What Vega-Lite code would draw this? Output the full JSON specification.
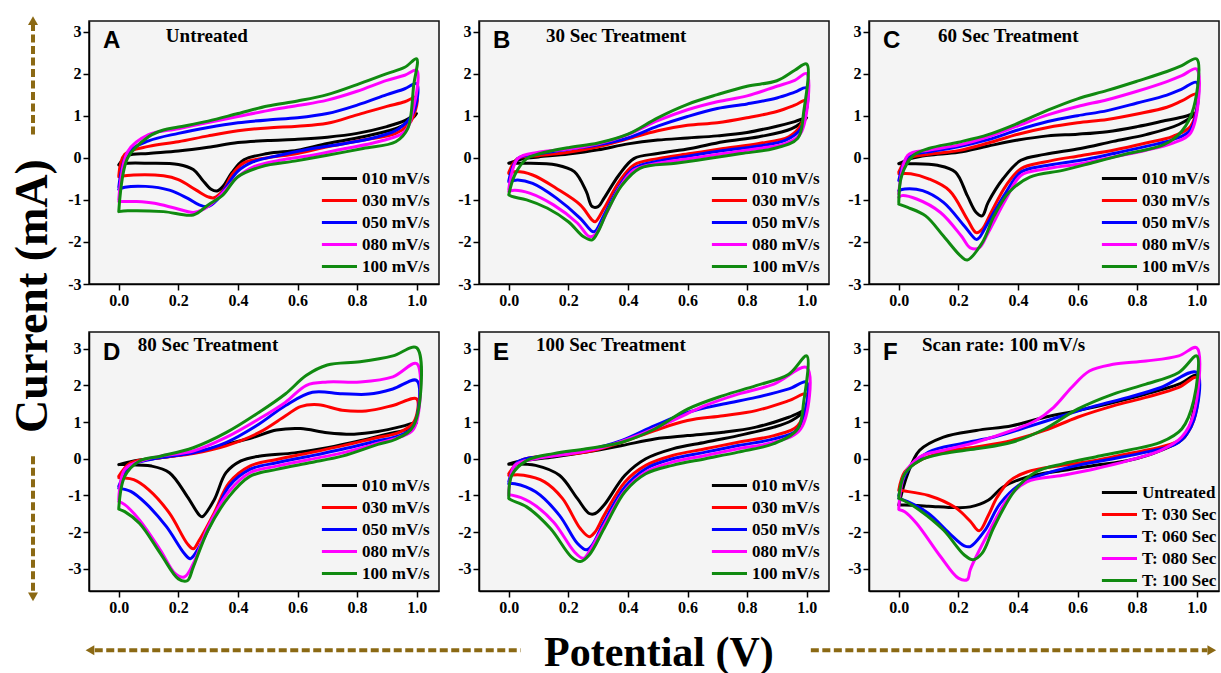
{
"$schema":"https://vega.github.io/schema/vega-lite/v6.json",
"background":"white",
"padding":{"left":9,"top":15,"right":0,"bottom":0},
"config":{
 "view":{"stroke":"#111111","strokeWidth":1.5,"fill":"#f4f4f4"},
 "axis":{"labelFont":"Liberation Serif","labelFontWeight":"bold","labelFontSize":16,"labelColor":"black","domainColor":"black","domainWidth":1.5,"tickColor":"black","tickWidth":1.5,"grid":false,"labelOverlap":false,"labelFlush":false,"labelPadding":2},
 "legend":{"orient":"bottom-right","offset":9,"labelFont":"Liberation Serif","labelFontWeight":"bold","labelFontSize":17,"labelColor":"black","symbolSize":81,"symbolStrokeWidth":3,"labelOffset":1,"rowPadding":4,"padding":0,"labelLimit":300},
 "text":{"color":"black"}
},
"datasets":{
"A":[
{"s":"010 mV/s","i":0,"V":0,"I":-0.17},{"s":"010 mV/s","i":1,"V":0.03,"I":0.05},{"s":"010 mV/s","i":2,"V":0.1,"I":0.1},{"s":"010 mV/s","i":3,"V":0.2,"I":0.16},{"s":"010 mV/s","i":4,"V":0.3,"I":0.25},{"s":"010 mV/s","i":5,"V":0.4,"I":0.36},{"s":"010 mV/s","i":6,"V":0.5,"I":0.41},{"s":"010 mV/s","i":7,"V":0.6,"I":0.44},{"s":"010 mV/s","i":8,"V":0.7,"I":0.49},{"s":"010 mV/s","i":9,"V":0.8,"I":0.58},{"s":"010 mV/s","i":10,"V":0.9,"I":0.74},{"s":"010 mV/s","i":11,"V":0.96,"I":0.88},{"s":"010 mV/s","i":12,"V":1,"I":1.05},{"s":"010 mV/s","i":13,"V":0.95,"I":0.75},{"s":"010 mV/s","i":14,"V":0.82,"I":0.5},{"s":"010 mV/s","i":15,"V":0.7,"I":0.34},{"s":"010 mV/s","i":16,"V":0.6,"I":0.18},{"s":"010 mV/s","i":17,"V":0.5,"I":0.1},{"s":"010 mV/s","i":18,"V":0.42,"I":-0.05},{"s":"010 mV/s","i":19,"V":0.38,"I":-0.35},{"s":"010 mV/s","i":20,"V":0.35,"I":-0.68},{"s":"010 mV/s","i":21,"V":0.33,"I":-0.79},{"s":"010 mV/s","i":22,"V":0.31,"I":-0.75},{"s":"010 mV/s","i":23,"V":0.28,"I":-0.52},{"s":"010 mV/s","i":24,"V":0.25,"I":-0.28},{"s":"010 mV/s","i":25,"V":0.2,"I":-0.16},{"s":"010 mV/s","i":26,"V":0.1,"I":-0.13},{"s":"010 mV/s","i":27,"V":0.03,"I":-0.13},{"s":"010 mV/s","i":28,"V":0,"I":-0.17},
{"s":"030 mV/s","i":0,"V":0,"I":-0.43},{"s":"030 mV/s","i":1,"V":0.02,"I":0.08},{"s":"030 mV/s","i":2,"V":0.1,"I":0.27},{"s":"030 mV/s","i":3,"V":0.2,"I":0.38},{"s":"030 mV/s","i":4,"V":0.3,"I":0.52},{"s":"030 mV/s","i":5,"V":0.4,"I":0.64},{"s":"030 mV/s","i":6,"V":0.5,"I":0.71},{"s":"030 mV/s","i":7,"V":0.6,"I":0.75},{"s":"030 mV/s","i":8,"V":0.7,"I":0.82},{"s":"030 mV/s","i":9,"V":0.8,"I":1.02},{"s":"030 mV/s","i":10,"V":0.9,"I":1.22},{"s":"030 mV/s","i":11,"V":0.96,"I":1.33},{"s":"030 mV/s","i":12,"V":1,"I":1.44},{"s":"030 mV/s","i":13,"V":0.99,"I":1.0},{"s":"030 mV/s","i":14,"V":0.97,"I":0.77},{"s":"030 mV/s","i":15,"V":0.93,"I":0.58},{"s":"030 mV/s","i":16,"V":0.82,"I":0.42},{"s":"030 mV/s","i":17,"V":0.7,"I":0.26},{"s":"030 mV/s","i":18,"V":0.6,"I":0.1},{"s":"030 mV/s","i":19,"V":0.5,"I":0},{"s":"030 mV/s","i":20,"V":0.42,"I":-0.12},{"s":"030 mV/s","i":21,"V":0.38,"I":-0.4},{"s":"030 mV/s","i":22,"V":0.35,"I":-0.78},{"s":"030 mV/s","i":23,"V":0.32,"I":-0.95},{"s":"030 mV/s","i":24,"V":0.3,"I":-0.93},{"s":"030 mV/s","i":25,"V":0.26,"I":-0.77},{"s":"030 mV/s","i":26,"V":0.2,"I":-0.52},{"s":"030 mV/s","i":27,"V":0.15,"I":-0.43},{"s":"030 mV/s","i":28,"V":0.05,"I":-0.41},{"s":"030 mV/s","i":29,"V":0,"I":-0.45},
{"s":"050 mV/s","i":0,"V":0,"I":-0.7},{"s":"050 mV/s","i":1,"V":0.03,"I":0.12},{"s":"050 mV/s","i":2,"V":0.1,"I":0.4},{"s":"050 mV/s","i":3,"V":0.2,"I":0.58},{"s":"050 mV/s","i":4,"V":0.3,"I":0.72},{"s":"050 mV/s","i":5,"V":0.4,"I":0.83},{"s":"050 mV/s","i":6,"V":0.5,"I":0.9},{"s":"050 mV/s","i":7,"V":0.6,"I":0.95},{"s":"050 mV/s","i":8,"V":0.7,"I":1.05},{"s":"050 mV/s","i":9,"V":0.8,"I":1.25},{"s":"050 mV/s","i":10,"V":0.9,"I":1.5},{"s":"050 mV/s","i":11,"V":0.96,"I":1.64},{"s":"050 mV/s","i":12,"V":1,"I":1.76},{"s":"050 mV/s","i":13,"V":0.99,"I":1.09},{"s":"050 mV/s","i":14,"V":0.94,"I":0.69},{"s":"050 mV/s","i":15,"V":0.87,"I":0.5},{"s":"050 mV/s","i":16,"V":0.76,"I":0.34},{"s":"050 mV/s","i":17,"V":0.65,"I":0.22},{"s":"050 mV/s","i":18,"V":0.54,"I":0.06},{"s":"050 mV/s","i":19,"V":0.45,"I":-0.1},{"s":"050 mV/s","i":20,"V":0.4,"I":-0.32},{"s":"050 mV/s","i":21,"V":0.36,"I":-0.7},{"s":"050 mV/s","i":22,"V":0.33,"I":-1.0},{"s":"050 mV/s","i":23,"V":0.3,"I":-1.16},{"s":"050 mV/s","i":24,"V":0.27,"I":-1.12},{"s":"050 mV/s","i":25,"V":0.23,"I":-0.96},{"s":"050 mV/s","i":26,"V":0.17,"I":-0.77},{"s":"050 mV/s","i":27,"V":0.09,"I":-0.68},{"s":"050 mV/s","i":28,"V":0.02,"I":-0.7},{"s":"050 mV/s","i":29,"V":0,"I":-0.75},
{"s":"080 mV/s","i":0,"V":0,"I":-1.0},{"s":"080 mV/s","i":1,"V":0.03,"I":0.15},{"s":"080 mV/s","i":2,"V":0.1,"I":0.55},{"s":"080 mV/s","i":3,"V":0.2,"I":0.69},{"s":"080 mV/s","i":4,"V":0.3,"I":0.84},{"s":"080 mV/s","i":5,"V":0.4,"I":0.98},{"s":"080 mV/s","i":6,"V":0.5,"I":1.12},{"s":"080 mV/s","i":7,"V":0.6,"I":1.24},{"s":"080 mV/s","i":8,"V":0.7,"I":1.37},{"s":"080 mV/s","i":9,"V":0.8,"I":1.58},{"s":"080 mV/s","i":10,"V":0.9,"I":1.84},{"s":"080 mV/s","i":11,"V":0.96,"I":1.96},{"s":"080 mV/s","i":12,"V":1,"I":2.08},{"s":"080 mV/s","i":13,"V":0.99,"I":1.2},{"s":"080 mV/s","i":14,"V":0.96,"I":0.62},{"s":"080 mV/s","i":15,"V":0.87,"I":0.38},{"s":"080 mV/s","i":16,"V":0.76,"I":0.22},{"s":"080 mV/s","i":17,"V":0.65,"I":0.06},{"s":"080 mV/s","i":18,"V":0.54,"I":-0.06},{"s":"080 mV/s","i":19,"V":0.45,"I":-0.22},{"s":"080 mV/s","i":20,"V":0.4,"I":-0.45},{"s":"080 mV/s","i":21,"V":0.36,"I":-0.75},{"s":"080 mV/s","i":22,"V":0.32,"I":-1.04},{"s":"080 mV/s","i":23,"V":0.28,"I":-1.24},{"s":"080 mV/s","i":24,"V":0.25,"I":-1.3},{"s":"080 mV/s","i":25,"V":0.19,"I":-1.2},{"s":"080 mV/s","i":26,"V":0.12,"I":-1.08},{"s":"080 mV/s","i":27,"V":0.06,"I":-1.04},{"s":"080 mV/s","i":28,"V":0,"I":-1.04},
{"s":"100 mV/s","i":0,"V":0,"I":-1.28},{"s":"100 mV/s","i":1,"V":0.03,"I":0},{"s":"100 mV/s","i":2,"V":0.1,"I":0.5},{"s":"100 mV/s","i":3,"V":0.15,"I":0.66},{"s":"100 mV/s","i":4,"V":0.2,"I":0.73},{"s":"100 mV/s","i":5,"V":0.3,"I":0.87},{"s":"100 mV/s","i":6,"V":0.4,"I":1.05},{"s":"100 mV/s","i":7,"V":0.5,"I":1.23},{"s":"100 mV/s","i":8,"V":0.6,"I":1.35},{"s":"100 mV/s","i":9,"V":0.7,"I":1.5},{"s":"100 mV/s","i":10,"V":0.8,"I":1.74},{"s":"100 mV/s","i":11,"V":0.9,"I":2.0},{"s":"100 mV/s","i":12,"V":0.96,"I":2.15},{"s":"100 mV/s","i":13,"V":1,"I":2.35},{"s":"100 mV/s","i":14,"V":0.99,"I":1.72},{"s":"100 mV/s","i":15,"V":0.97,"I":0.69},{"s":"100 mV/s","i":16,"V":0.93,"I":0.38},{"s":"100 mV/s","i":17,"V":0.82,"I":0.22},{"s":"100 mV/s","i":18,"V":0.7,"I":0.06},{"s":"100 mV/s","i":19,"V":0.59,"I":-0.08},{"s":"100 mV/s","i":20,"V":0.48,"I":-0.21},{"s":"100 mV/s","i":21,"V":0.4,"I":-0.45},{"s":"100 mV/s","i":22,"V":0.35,"I":-0.88},{"s":"100 mV/s","i":23,"V":0.3,"I":-1.12},{"s":"100 mV/s","i":24,"V":0.25,"I":-1.36},{"s":"100 mV/s","i":25,"V":0.15,"I":-1.28},{"s":"100 mV/s","i":26,"V":0.03,"I":-1.26},{"s":"100 mV/s","i":27,"V":0,"I":-1.28}
],
"B":[
{"s":"010 mV/s","i":0,"V":0,"I":-0.13},{"s":"010 mV/s","i":1,"V":0.05,"I":-0.02},{"s":"010 mV/s","i":2,"V":0.1,"I":0.02},{"s":"010 mV/s","i":3,"V":0.2,"I":0.09},{"s":"010 mV/s","i":4,"V":0.3,"I":0.19},{"s":"010 mV/s","i":5,"V":0.4,"I":0.33},{"s":"010 mV/s","i":6,"V":0.5,"I":0.42},{"s":"010 mV/s","i":7,"V":0.6,"I":0.47},{"s":"010 mV/s","i":8,"V":0.7,"I":0.52},{"s":"010 mV/s","i":9,"V":0.8,"I":0.6},{"s":"010 mV/s","i":10,"V":0.9,"I":0.75},{"s":"010 mV/s","i":11,"V":0.96,"I":0.86},{"s":"010 mV/s","i":12,"V":1,"I":0.95},{"s":"010 mV/s","i":13,"V":0.95,"I":0.69},{"s":"010 mV/s","i":14,"V":0.84,"I":0.5},{"s":"010 mV/s","i":15,"V":0.72,"I":0.38},{"s":"010 mV/s","i":16,"V":0.61,"I":0.22},{"s":"010 mV/s","i":17,"V":0.5,"I":0.1},{"s":"010 mV/s","i":18,"V":0.42,"I":-0.02},{"s":"010 mV/s","i":19,"V":0.37,"I":-0.41},{"s":"010 mV/s","i":20,"V":0.32,"I":-0.96},{"s":"010 mV/s","i":21,"V":0.3,"I":-1.16},{"s":"010 mV/s","i":22,"V":0.28,"I":-1.16},{"s":"010 mV/s","i":23,"V":0.26,"I":-0.8},{"s":"010 mV/s","i":24,"V":0.22,"I":-0.33},{"s":"010 mV/s","i":25,"V":0.16,"I":-0.17},{"s":"010 mV/s","i":26,"V":0.05,"I":-0.13},{"s":"010 mV/s","i":27,"V":0,"I":-0.13},
{"s":"030 mV/s","i":0,"V":0,"I":-0.35},{"s":"030 mV/s","i":1,"V":0.03,"I":-0.02},{"s":"030 mV/s","i":2,"V":0.1,"I":0.05},{"s":"030 mV/s","i":3,"V":0.2,"I":0.13},{"s":"030 mV/s","i":4,"V":0.3,"I":0.26},{"s":"030 mV/s","i":5,"V":0.4,"I":0.45},{"s":"030 mV/s","i":6,"V":0.5,"I":0.64},{"s":"030 mV/s","i":7,"V":0.6,"I":0.77},{"s":"030 mV/s","i":8,"V":0.7,"I":0.83},{"s":"030 mV/s","i":9,"V":0.8,"I":0.95},{"s":"030 mV/s","i":10,"V":0.9,"I":1.1},{"s":"030 mV/s","i":11,"V":0.96,"I":1.25},{"s":"030 mV/s","i":12,"V":1,"I":1.37},{"s":"030 mV/s","i":13,"V":0.98,"I":0.77},{"s":"030 mV/s","i":14,"V":0.94,"I":0.5},{"s":"030 mV/s","i":15,"V":0.84,"I":0.34},{"s":"030 mV/s","i":16,"V":0.72,"I":0.22},{"s":"030 mV/s","i":17,"V":0.61,"I":0.1},{"s":"030 mV/s","i":18,"V":0.5,"I":-0.02},{"s":"030 mV/s","i":19,"V":0.42,"I":-0.17},{"s":"030 mV/s","i":20,"V":0.37,"I":-0.57},{"s":"030 mV/s","i":21,"V":0.32,"I":-1.2},{"s":"030 mV/s","i":22,"V":0.29,"I":-1.52},{"s":"030 mV/s","i":23,"V":0.28,"I":-1.48},{"s":"030 mV/s","i":24,"V":0.24,"I":-1.12},{"s":"030 mV/s","i":25,"V":0.16,"I":-0.73},{"s":"030 mV/s","i":26,"V":0.08,"I":-0.41},{"s":"030 mV/s","i":27,"V":0.02,"I":-0.33},{"s":"030 mV/s","i":28,"V":0,"I":-0.37},
{"s":"050 mV/s","i":0,"V":0,"I":-0.55},{"s":"050 mV/s","i":1,"V":0.03,"I":-0.02},{"s":"050 mV/s","i":2,"V":0.1,"I":0.09},{"s":"050 mV/s","i":3,"V":0.2,"I":0.2},{"s":"050 mV/s","i":4,"V":0.3,"I":0.31},{"s":"050 mV/s","i":5,"V":0.4,"I":0.47},{"s":"050 mV/s","i":6,"V":0.5,"I":0.75},{"s":"050 mV/s","i":7,"V":0.6,"I":0.98},{"s":"050 mV/s","i":8,"V":0.7,"I":1.17},{"s":"050 mV/s","i":9,"V":0.8,"I":1.28},{"s":"050 mV/s","i":10,"V":0.9,"I":1.42},{"s":"050 mV/s","i":11,"V":0.96,"I":1.56},{"s":"050 mV/s","i":12,"V":1,"I":1.66},{"s":"050 mV/s","i":13,"V":0.98,"I":0.69},{"s":"050 mV/s","i":14,"V":0.93,"I":0.42},{"s":"050 mV/s","i":15,"V":0.84,"I":0.28},{"s":"050 mV/s","i":16,"V":0.72,"I":0.17},{"s":"050 mV/s","i":17,"V":0.61,"I":0.05},{"s":"050 mV/s","i":18,"V":0.5,"I":-0.08},{"s":"050 mV/s","i":19,"V":0.42,"I":-0.25},{"s":"050 mV/s","i":20,"V":0.37,"I":-0.69},{"s":"050 mV/s","i":21,"V":0.32,"I":-1.36},{"s":"050 mV/s","i":22,"V":0.29,"I":-1.75},{"s":"050 mV/s","i":23,"V":0.28,"I":-1.75},{"s":"050 mV/s","i":24,"V":0.24,"I":-1.44},{"s":"050 mV/s","i":25,"V":0.16,"I":-0.96},{"s":"050 mV/s","i":26,"V":0.08,"I":-0.61},{"s":"050 mV/s","i":27,"V":0.03,"I":-0.53},{"s":"050 mV/s","i":28,"V":0,"I":-0.57},
{"s":"080 mV/s","i":0,"V":0,"I":-0.75},{"s":"080 mV/s","i":1,"V":0.03,"I":-0.02},{"s":"080 mV/s","i":2,"V":0.1,"I":0.13},{"s":"080 mV/s","i":3,"V":0.2,"I":0.21},{"s":"080 mV/s","i":4,"V":0.3,"I":0.33},{"s":"080 mV/s","i":5,"V":0.4,"I":0.55},{"s":"080 mV/s","i":6,"V":0.5,"I":0.88},{"s":"080 mV/s","i":7,"V":0.6,"I":1.14},{"s":"080 mV/s","i":8,"V":0.7,"I":1.33},{"s":"080 mV/s","i":9,"V":0.8,"I":1.47},{"s":"080 mV/s","i":10,"V":0.9,"I":1.7},{"s":"080 mV/s","i":11,"V":0.96,"I":1.84},{"s":"080 mV/s","i":12,"V":1,"I":2.0},{"s":"080 mV/s","i":13,"V":0.98,"I":0.58},{"s":"080 mV/s","i":14,"V":0.93,"I":0.34},{"s":"080 mV/s","i":15,"V":0.84,"I":0.22},{"s":"080 mV/s","i":16,"V":0.72,"I":0.1},{"s":"080 mV/s","i":17,"V":0.61,"I":-0.02},{"s":"080 mV/s","i":18,"V":0.5,"I":-0.13},{"s":"080 mV/s","i":19,"V":0.42,"I":-0.29},{"s":"080 mV/s","i":20,"V":0.37,"I":-0.73},{"s":"080 mV/s","i":21,"V":0.32,"I":-1.44},{"s":"080 mV/s","i":22,"V":0.29,"I":-1.83},{"s":"080 mV/s","i":23,"V":0.27,"I":-1.87},{"s":"080 mV/s","i":24,"V":0.23,"I":-1.55},{"s":"080 mV/s","i":25,"V":0.15,"I":-1.12},{"s":"080 mV/s","i":26,"V":0.07,"I":-0.84},{"s":"080 mV/s","i":27,"V":0.02,"I":-0.77},{"s":"080 mV/s","i":28,"V":0,"I":-0.8},
{"s":"100 mV/s","i":0,"V":0,"I":-0.88},{"s":"100 mV/s","i":1,"V":0.02,"I":-0.41},{"s":"100 mV/s","i":2,"V":0.06,"I":-0.02},{"s":"100 mV/s","i":3,"V":0.1,"I":0.09},{"s":"100 mV/s","i":4,"V":0.2,"I":0.24},{"s":"100 mV/s","i":5,"V":0.3,"I":0.35},{"s":"100 mV/s","i":6,"V":0.4,"I":0.56},{"s":"100 mV/s","i":7,"V":0.5,"I":0.95},{"s":"100 mV/s","i":8,"V":0.6,"I":1.27},{"s":"100 mV/s","i":9,"V":0.7,"I":1.5},{"s":"100 mV/s","i":10,"V":0.8,"I":1.7},{"s":"100 mV/s","i":11,"V":0.9,"I":1.83},{"s":"100 mV/s","i":12,"V":0.96,"I":2.08},{"s":"100 mV/s","i":13,"V":1,"I":2.23},{"s":"100 mV/s","i":14,"V":0.99,"I":1.09},{"s":"100 mV/s","i":15,"V":0.97,"I":0.46},{"s":"100 mV/s","i":16,"V":0.89,"I":0.22},{"s":"100 mV/s","i":17,"V":0.78,"I":0.1},{"s":"100 mV/s","i":18,"V":0.67,"I":-0.02},{"s":"100 mV/s","i":19,"V":0.56,"I":-0.13},{"s":"100 mV/s","i":20,"V":0.44,"I":-0.25},{"s":"100 mV/s","i":21,"V":0.38,"I":-0.65},{"s":"100 mV/s","i":22,"V":0.33,"I":-1.28},{"s":"100 mV/s","i":23,"V":0.3,"I":-1.75},{"s":"100 mV/s","i":24,"V":0.28,"I":-1.95},{"s":"100 mV/s","i":25,"V":0.25,"I":-1.87},{"s":"100 mV/s","i":26,"V":0.2,"I":-1.52},{"s":"100 mV/s","i":27,"V":0.13,"I":-1.2},{"s":"100 mV/s","i":28,"V":0.06,"I":-1.0},{"s":"100 mV/s","i":29,"V":0.01,"I":-0.92},{"s":"100 mV/s","i":30,"V":0,"I":-0.88}
],
"C":[
{"s":"010 mV/s","i":0,"V":0,"I":-0.14},{"s":"010 mV/s","i":1,"V":0.04,"I":-0.02},{"s":"010 mV/s","i":2,"V":0.1,"I":0.06},{"s":"010 mV/s","i":3,"V":0.2,"I":0.13},{"s":"010 mV/s","i":4,"V":0.3,"I":0.28},{"s":"010 mV/s","i":5,"V":0.4,"I":0.42},{"s":"010 mV/s","i":6,"V":0.5,"I":0.52},{"s":"010 mV/s","i":7,"V":0.6,"I":0.56},{"s":"010 mV/s","i":8,"V":0.7,"I":0.62},{"s":"010 mV/s","i":9,"V":0.8,"I":0.74},{"s":"010 mV/s","i":10,"V":0.9,"I":0.89},{"s":"010 mV/s","i":11,"V":0.96,"I":0.98},{"s":"010 mV/s","i":12,"V":1,"I":1.07},{"s":"010 mV/s","i":13,"V":0.94,"I":0.79},{"s":"010 mV/s","i":14,"V":0.83,"I":0.55},{"s":"010 mV/s","i":15,"V":0.72,"I":0.39},{"s":"010 mV/s","i":16,"V":0.61,"I":0.22},{"s":"010 mV/s","i":17,"V":0.49,"I":0.08},{"s":"010 mV/s","i":18,"V":0.41,"I":-0.06},{"s":"010 mV/s","i":19,"V":0.35,"I":-0.5},{"s":"010 mV/s","i":20,"V":0.3,"I":-1.06},{"s":"010 mV/s","i":21,"V":0.28,"I":-1.38},{"s":"010 mV/s","i":22,"V":0.26,"I":-1.3},{"s":"010 mV/s","i":23,"V":0.23,"I":-0.9},{"s":"010 mV/s","i":24,"V":0.19,"I":-0.34},{"s":"010 mV/s","i":25,"V":0.13,"I":-0.18},{"s":"010 mV/s","i":26,"V":0.04,"I":-0.14},{"s":"010 mV/s","i":27,"V":0,"I":-0.14},
{"s":"030 mV/s","i":0,"V":0,"I":-0.34},{"s":"030 mV/s","i":1,"V":0.03,"I":-0.02},{"s":"030 mV/s","i":2,"V":0.1,"I":0.08},{"s":"030 mV/s","i":3,"V":0.2,"I":0.17},{"s":"030 mV/s","i":4,"V":0.3,"I":0.35},{"s":"030 mV/s","i":5,"V":0.4,"I":0.56},{"s":"030 mV/s","i":6,"V":0.5,"I":0.72},{"s":"030 mV/s","i":7,"V":0.6,"I":0.83},{"s":"030 mV/s","i":8,"V":0.7,"I":0.91},{"s":"030 mV/s","i":9,"V":0.8,"I":1.04},{"s":"030 mV/s","i":10,"V":0.9,"I":1.2},{"s":"030 mV/s","i":11,"V":0.95,"I":1.35},{"s":"030 mV/s","i":12,"V":1,"I":1.51},{"s":"030 mV/s","i":13,"V":0.98,"I":0.75},{"s":"030 mV/s","i":14,"V":0.92,"I":0.51},{"s":"030 mV/s","i":15,"V":0.83,"I":0.35},{"s":"030 mV/s","i":16,"V":0.72,"I":0.18},{"s":"030 mV/s","i":17,"V":0.61,"I":0.05},{"s":"030 mV/s","i":18,"V":0.49,"I":-0.1},{"s":"030 mV/s","i":19,"V":0.41,"I":-0.26},{"s":"030 mV/s","i":20,"V":0.36,"I":-0.66},{"s":"030 mV/s","i":21,"V":0.31,"I":-1.3},{"s":"030 mV/s","i":22,"V":0.28,"I":-1.7},{"s":"030 mV/s","i":23,"V":0.26,"I":-1.78},{"s":"030 mV/s","i":24,"V":0.23,"I":-1.46},{"s":"030 mV/s","i":25,"V":0.17,"I":-0.78},{"s":"030 mV/s","i":26,"V":0.1,"I":-0.5},{"s":"030 mV/s","i":27,"V":0.04,"I":-0.38},{"s":"030 mV/s","i":28,"V":0,"I":-0.38},
{"s":"050 mV/s","i":0,"V":0,"I":-0.54},{"s":"050 mV/s","i":1,"V":0.03,"I":0.02},{"s":"050 mV/s","i":2,"V":0.1,"I":0.14},{"s":"050 mV/s","i":3,"V":0.2,"I":0.26},{"s":"050 mV/s","i":4,"V":0.3,"I":0.43},{"s":"050 mV/s","i":5,"V":0.4,"I":0.66},{"s":"050 mV/s","i":6,"V":0.5,"I":0.86},{"s":"050 mV/s","i":7,"V":0.6,"I":1.0},{"s":"050 mV/s","i":8,"V":0.7,"I":1.12},{"s":"050 mV/s","i":9,"V":0.8,"I":1.3},{"s":"050 mV/s","i":10,"V":0.9,"I":1.49},{"s":"050 mV/s","i":11,"V":0.95,"I":1.63},{"s":"050 mV/s","i":12,"V":1,"I":1.79},{"s":"050 mV/s","i":13,"V":0.98,"I":0.67},{"s":"050 mV/s","i":14,"V":0.92,"I":0.43},{"s":"050 mV/s","i":15,"V":0.83,"I":0.27},{"s":"050 mV/s","i":16,"V":0.72,"I":0.1},{"s":"050 mV/s","i":17,"V":0.61,"I":-0.06},{"s":"050 mV/s","i":18,"V":0.49,"I":-0.19},{"s":"050 mV/s","i":19,"V":0.41,"I":-0.34},{"s":"050 mV/s","i":20,"V":0.36,"I":-0.82},{"s":"050 mV/s","i":21,"V":0.3,"I":-1.54},{"s":"050 mV/s","i":22,"V":0.27,"I":-1.9},{"s":"050 mV/s","i":23,"V":0.26,"I":-1.94},{"s":"050 mV/s","i":24,"V":0.22,"I":-1.62},{"s":"050 mV/s","i":25,"V":0.15,"I":-1.06},{"s":"050 mV/s","i":26,"V":0.08,"I":-0.78},{"s":"050 mV/s","i":27,"V":0.02,"I":-0.74},{"s":"050 mV/s","i":28,"V":0,"I":-0.78},
{"s":"080 mV/s","i":0,"V":0,"I":-0.86},{"s":"080 mV/s","i":1,"V":0.03,"I":0.06},{"s":"080 mV/s","i":2,"V":0.1,"I":0.18},{"s":"080 mV/s","i":3,"V":0.2,"I":0.3},{"s":"080 mV/s","i":4,"V":0.3,"I":0.5},{"s":"080 mV/s","i":5,"V":0.4,"I":0.76},{"s":"080 mV/s","i":6,"V":0.5,"I":1.02},{"s":"080 mV/s","i":7,"V":0.6,"I":1.22},{"s":"080 mV/s","i":8,"V":0.7,"I":1.38},{"s":"080 mV/s","i":9,"V":0.8,"I":1.58},{"s":"080 mV/s","i":10,"V":0.9,"I":1.81},{"s":"080 mV/s","i":11,"V":0.95,"I":1.95},{"s":"080 mV/s","i":12,"V":1,"I":2.11},{"s":"080 mV/s","i":13,"V":0.98,"I":0.59},{"s":"080 mV/s","i":14,"V":0.92,"I":0.35},{"s":"080 mV/s","i":15,"V":0.83,"I":0.18},{"s":"080 mV/s","i":16,"V":0.72,"I":0.02},{"s":"080 mV/s","i":17,"V":0.61,"I":-0.14},{"s":"080 mV/s","i":18,"V":0.49,"I":-0.27},{"s":"080 mV/s","i":19,"V":0.41,"I":-0.42},{"s":"080 mV/s","i":20,"V":0.36,"I":-0.98},{"s":"080 mV/s","i":21,"V":0.3,"I":-1.78},{"s":"080 mV/s","i":22,"V":0.27,"I":-2.14},{"s":"080 mV/s","i":23,"V":0.24,"I":-2.14},{"s":"080 mV/s","i":24,"V":0.21,"I":-1.86},{"s":"080 mV/s","i":25,"V":0.14,"I":-1.3},{"s":"080 mV/s","i":26,"V":0.06,"I":-0.98},{"s":"080 mV/s","i":27,"V":0.01,"I":-0.9},{"s":"080 mV/s","i":28,"V":0,"I":-0.94},
{"s":"100 mV/s","i":0,"V":0,"I":-1.06},{"s":"100 mV/s","i":1,"V":0.01,"I":-0.42},{"s":"100 mV/s","i":2,"V":0.05,"I":0.06},{"s":"100 mV/s","i":3,"V":0.1,"I":0.22},{"s":"100 mV/s","i":4,"V":0.2,"I":0.37},{"s":"100 mV/s","i":5,"V":0.3,"I":0.55},{"s":"100 mV/s","i":6,"V":0.4,"I":0.82},{"s":"100 mV/s","i":7,"V":0.5,"I":1.13},{"s":"100 mV/s","i":8,"V":0.6,"I":1.4},{"s":"100 mV/s","i":9,"V":0.7,"I":1.6},{"s":"100 mV/s","i":10,"V":0.8,"I":1.82},{"s":"100 mV/s","i":11,"V":0.9,"I":2.05},{"s":"100 mV/s","i":12,"V":0.95,"I":2.19},{"s":"100 mV/s","i":13,"V":1,"I":2.35},{"s":"100 mV/s","i":14,"V":0.99,"I":1.19},{"s":"100 mV/s","i":15,"V":0.95,"I":0.63},{"s":"100 mV/s","i":16,"V":0.89,"I":0.31},{"s":"100 mV/s","i":17,"V":0.77,"I":0.1},{"s":"100 mV/s","i":18,"V":0.66,"I":-0.1},{"s":"100 mV/s","i":19,"V":0.55,"I":-0.3},{"s":"100 mV/s","i":20,"V":0.44,"I":-0.46},{"s":"100 mV/s","i":21,"V":0.37,"I":-0.82},{"s":"100 mV/s","i":22,"V":0.32,"I":-1.38},{"s":"100 mV/s","i":23,"V":0.28,"I":-2.02},{"s":"100 mV/s","i":24,"V":0.23,"I":-2.43},{"s":"100 mV/s","i":25,"V":0.21,"I":-2.35},{"s":"100 mV/s","i":26,"V":0.15,"I":-1.86},{"s":"100 mV/s","i":27,"V":0.09,"I":-1.38},{"s":"100 mV/s","i":28,"V":0.03,"I":-1.18},{"s":"100 mV/s","i":29,"V":0,"I":-1.1}
],
"D":[
{"s":"010 mV/s","i":0,"V":0,"I":-0.16},{"s":"010 mV/s","i":1,"V":0.05,"I":-0.06},{"s":"010 mV/s","i":2,"V":0.14,"I":0.03},{"s":"010 mV/s","i":3,"V":0.25,"I":0.16},{"s":"010 mV/s","i":4,"V":0.36,"I":0.39},{"s":"010 mV/s","i":5,"V":0.45,"I":0.58},{"s":"010 mV/s","i":6,"V":0.53,"I":0.78},{"s":"010 mV/s","i":7,"V":0.61,"I":0.82},{"s":"010 mV/s","i":8,"V":0.7,"I":0.71},{"s":"010 mV/s","i":9,"V":0.79,"I":0.67},{"s":"010 mV/s","i":10,"V":0.87,"I":0.74},{"s":"010 mV/s","i":11,"V":0.95,"I":0.88},{"s":"010 mV/s","i":12,"V":1,"I":0.99},{"s":"010 mV/s","i":13,"V":0.97,"I":0.81},{"s":"010 mV/s","i":14,"V":0.9,"I":0.67},{"s":"010 mV/s","i":15,"V":0.81,"I":0.49},{"s":"010 mV/s","i":16,"V":0.7,"I":0.3},{"s":"010 mV/s","i":17,"V":0.59,"I":0.16},{"s":"010 mV/s","i":18,"V":0.47,"I":0.07},{"s":"010 mV/s","i":19,"V":0.41,"I":-0.06},{"s":"010 mV/s","i":20,"V":0.36,"I":-0.38},{"s":"010 mV/s","i":21,"V":0.32,"I":-1.12},{"s":"010 mV/s","i":22,"V":0.28,"I":-1.58},{"s":"010 mV/s","i":23,"V":0.27,"I":-1.53},{"s":"010 mV/s","i":24,"V":0.23,"I":-1.03},{"s":"010 mV/s","i":25,"V":0.17,"I":-0.38},{"s":"010 mV/s","i":26,"V":0.11,"I":-0.2},{"s":"010 mV/s","i":27,"V":0.02,"I":-0.16},{"s":"010 mV/s","i":28,"V":0,"I":-0.16},
{"s":"030 mV/s","i":0,"V":0,"I":-0.48},{"s":"030 mV/s","i":1,"V":0.04,"I":-0.11},{"s":"030 mV/s","i":2,"V":0.14,"I":0.03},{"s":"030 mV/s","i":3,"V":0.25,"I":0.14},{"s":"030 mV/s","i":4,"V":0.36,"I":0.35},{"s":"030 mV/s","i":5,"V":0.47,"I":0.71},{"s":"030 mV/s","i":6,"V":0.56,"I":1.17},{"s":"030 mV/s","i":7,"V":0.61,"I":1.42},{"s":"030 mV/s","i":8,"V":0.67,"I":1.47},{"s":"030 mV/s","i":9,"V":0.75,"I":1.32},{"s":"030 mV/s","i":10,"V":0.83,"I":1.3},{"s":"030 mV/s","i":11,"V":0.92,"I":1.45},{"s":"030 mV/s","i":12,"V":1,"I":1.63},{"s":"030 mV/s","i":13,"V":0.99,"I":0.99},{"s":"030 mV/s","i":14,"V":0.94,"I":0.71},{"s":"030 mV/s","i":15,"V":0.87,"I":0.58},{"s":"030 mV/s","i":16,"V":0.75,"I":0.35},{"s":"030 mV/s","i":17,"V":0.64,"I":0.16},{"s":"030 mV/s","i":18,"V":0.53,"I":-0.02},{"s":"030 mV/s","i":19,"V":0.44,"I":-0.2},{"s":"030 mV/s","i":20,"V":0.37,"I":-0.66},{"s":"030 mV/s","i":21,"V":0.32,"I":-1.48},{"s":"030 mV/s","i":22,"V":0.27,"I":-2.22},{"s":"030 mV/s","i":23,"V":0.25,"I":-2.45},{"s":"030 mV/s","i":24,"V":0.23,"I":-2.31},{"s":"030 mV/s","i":25,"V":0.17,"I":-1.48},{"s":"030 mV/s","i":26,"V":0.1,"I":-0.84},{"s":"030 mV/s","i":27,"V":0.05,"I":-0.57},{"s":"030 mV/s","i":28,"V":0,"I":-0.52},
{"s":"050 mV/s","i":0,"V":0,"I":-0.75},{"s":"050 mV/s","i":1,"V":0.04,"I":-0.2},{"s":"050 mV/s","i":2,"V":0.14,"I":0.03},{"s":"050 mV/s","i":3,"V":0.25,"I":0.16},{"s":"050 mV/s","i":4,"V":0.36,"I":0.44},{"s":"050 mV/s","i":5,"V":0.47,"I":0.94},{"s":"050 mV/s","i":6,"V":0.56,"I":1.45},{"s":"050 mV/s","i":7,"V":0.65,"I":1.81},{"s":"050 mV/s","i":8,"V":0.75,"I":1.77},{"s":"050 mV/s","i":9,"V":0.84,"I":1.76},{"s":"050 mV/s","i":10,"V":0.92,"I":1.9},{"s":"050 mV/s","i":11,"V":1,"I":2.13},{"s":"050 mV/s","i":12,"V":0.99,"I":0.9},{"s":"050 mV/s","i":13,"V":0.94,"I":0.62},{"s":"050 mV/s","i":14,"V":0.87,"I":0.49},{"s":"050 mV/s","i":15,"V":0.75,"I":0.26},{"s":"050 mV/s","i":16,"V":0.64,"I":0.07},{"s":"050 mV/s","i":17,"V":0.53,"I":-0.11},{"s":"050 mV/s","i":18,"V":0.44,"I":-0.29},{"s":"050 mV/s","i":19,"V":0.37,"I":-0.75},{"s":"050 mV/s","i":20,"V":0.32,"I":-1.58},{"s":"050 mV/s","i":21,"V":0.27,"I":-2.4},{"s":"050 mV/s","i":22,"V":0.24,"I":-2.72},{"s":"050 mV/s","i":23,"V":0.22,"I":-2.58},{"s":"050 mV/s","i":24,"V":0.16,"I":-1.85},{"s":"050 mV/s","i":25,"V":0.09,"I":-1.21},{"s":"050 mV/s","i":26,"V":0.04,"I":-0.89},{"s":"050 mV/s","i":27,"V":0,"I":-0.8},
{"s":"080 mV/s","i":0,"V":0,"I":-1.12},{"s":"080 mV/s","i":1,"V":0.02,"I":-0.29},{"s":"080 mV/s","i":2,"V":0.09,"I":-0.02},{"s":"080 mV/s","i":3,"V":0.14,"I":0.07},{"s":"080 mV/s","i":4,"V":0.25,"I":0.21},{"s":"080 mV/s","i":5,"V":0.36,"I":0.58},{"s":"080 mV/s","i":6,"V":0.47,"I":1.08},{"s":"080 mV/s","i":7,"V":0.56,"I":1.54},{"s":"080 mV/s","i":8,"V":0.63,"I":2.0},{"s":"080 mV/s","i":9,"V":0.7,"I":2.09},{"s":"080 mV/s","i":10,"V":0.81,"I":2.09},{"s":"080 mV/s","i":11,"V":0.92,"I":2.23},{"s":"080 mV/s","i":12,"V":1,"I":2.59},{"s":"080 mV/s","i":13,"V":0.99,"I":0.81},{"s":"080 mV/s","i":14,"V":0.94,"I":0.58},{"s":"080 mV/s","i":15,"V":0.87,"I":0.42},{"s":"080 mV/s","i":16,"V":0.75,"I":0.16},{"s":"080 mV/s","i":17,"V":0.64,"I":-0.02},{"s":"080 mV/s","i":18,"V":0.53,"I":-0.2},{"s":"080 mV/s","i":19,"V":0.44,"I":-0.38},{"s":"080 mV/s","i":20,"V":0.37,"I":-0.89},{"s":"080 mV/s","i":21,"V":0.3,"I":-1.85},{"s":"080 mV/s","i":22,"V":0.25,"I":-2.86},{"s":"080 mV/s","i":23,"V":0.22,"I":-3.22},{"s":"080 mV/s","i":24,"V":0.19,"I":-3.13},{"s":"080 mV/s","i":25,"V":0.14,"I":-2.49},{"s":"080 mV/s","i":26,"V":0.07,"I":-1.67},{"s":"080 mV/s","i":27,"V":0.02,"I":-1.25},{"s":"080 mV/s","i":28,"V":0,"I":-1.16},
{"s":"100 mV/s","i":0,"V":0,"I":-1.35},{"s":"100 mV/s","i":1,"V":0.02,"I":-0.48},{"s":"100 mV/s","i":2,"V":0.07,"I":-0.06},{"s":"100 mV/s","i":3,"V":0.14,"I":0.07},{"s":"100 mV/s","i":4,"V":0.25,"I":0.3},{"s":"100 mV/s","i":5,"V":0.36,"I":0.71},{"s":"100 mV/s","i":6,"V":0.47,"I":1.26},{"s":"100 mV/s","i":7,"V":0.56,"I":1.77},{"s":"100 mV/s","i":8,"V":0.63,"I":2.27},{"s":"100 mV/s","i":9,"V":0.7,"I":2.55},{"s":"100 mV/s","i":10,"V":0.81,"I":2.64},{"s":"100 mV/s","i":11,"V":0.92,"I":2.8},{"s":"100 mV/s","i":12,"V":1,"I":3.02},{"s":"100 mV/s","i":13,"V":0.99,"I":0.9},{"s":"100 mV/s","i":14,"V":0.93,"I":0.53},{"s":"100 mV/s","i":15,"V":0.87,"I":0.39},{"s":"100 mV/s","i":16,"V":0.75,"I":0.07},{"s":"100 mV/s","i":17,"V":0.64,"I":-0.11},{"s":"100 mV/s","i":18,"V":0.53,"I":-0.29},{"s":"100 mV/s","i":19,"V":0.44,"I":-0.48},{"s":"100 mV/s","i":20,"V":0.37,"I":-1.03},{"s":"100 mV/s","i":21,"V":0.3,"I":-1.94},{"s":"100 mV/s","i":22,"V":0.25,"I":-2.95},{"s":"100 mV/s","i":23,"V":0.23,"I":-3.32},{"s":"100 mV/s","i":24,"V":0.2,"I":-3.27},{"s":"100 mV/s","i":25,"V":0.14,"I":-2.58},{"s":"100 mV/s","i":26,"V":0.07,"I":-1.76},{"s":"100 mV/s","i":27,"V":0.02,"I":-1.44},{"s":"100 mV/s","i":28,"V":0,"I":-1.37}
],
"E":[
{"s":"010 mV/s","i":0,"V":0,"I":-0.14},{"s":"010 mV/s","i":1,"V":0.05,"I":-0.05},{"s":"010 mV/s","i":2,"V":0.15,"I":0.05},{"s":"010 mV/s","i":3,"V":0.26,"I":0.18},{"s":"010 mV/s","i":4,"V":0.38,"I":0.36},{"s":"010 mV/s","i":5,"V":0.49,"I":0.54},{"s":"010 mV/s","i":6,"V":0.6,"I":0.63},{"s":"010 mV/s","i":7,"V":0.72,"I":0.72},{"s":"010 mV/s","i":8,"V":0.83,"I":0.86},{"s":"010 mV/s","i":9,"V":0.94,"I":1.13},{"s":"010 mV/s","i":10,"V":1,"I":1.34},{"s":"010 mV/s","i":11,"V":0.95,"I":1.04},{"s":"010 mV/s","i":12,"V":0.89,"I":0.86},{"s":"010 mV/s","i":13,"V":0.77,"I":0.63},{"s":"010 mV/s","i":14,"V":0.66,"I":0.45},{"s":"010 mV/s","i":15,"V":0.55,"I":0.27},{"s":"010 mV/s","i":16,"V":0.46,"I":0},{"s":"010 mV/s","i":17,"V":0.39,"I":-0.45},{"s":"010 mV/s","i":18,"V":0.32,"I":-1.26},{"s":"010 mV/s","i":19,"V":0.29,"I":-1.49},{"s":"010 mV/s","i":20,"V":0.27,"I":-1.49},{"s":"010 mV/s","i":21,"V":0.23,"I":-1.08},{"s":"010 mV/s","i":22,"V":0.17,"I":-0.45},{"s":"010 mV/s","i":23,"V":0.09,"I":-0.18},{"s":"010 mV/s","i":24,"V":0.02,"I":-0.14},{"s":"010 mV/s","i":25,"V":0,"I":-0.15},
{"s":"030 mV/s","i":0,"V":0,"I":-0.41},{"s":"030 mV/s","i":1,"V":0.04,"I":-0.05},{"s":"030 mV/s","i":2,"V":0.15,"I":0.09},{"s":"030 mV/s","i":3,"V":0.26,"I":0.18},{"s":"030 mV/s","i":4,"V":0.38,"I":0.45},{"s":"030 mV/s","i":5,"V":0.49,"I":0.77},{"s":"030 mV/s","i":6,"V":0.6,"I":1.04},{"s":"030 mV/s","i":7,"V":0.72,"I":1.17},{"s":"030 mV/s","i":8,"V":0.83,"I":1.31},{"s":"030 mV/s","i":9,"V":0.94,"I":1.58},{"s":"030 mV/s","i":10,"V":1,"I":1.76},{"s":"030 mV/s","i":11,"V":0.97,"I":0.9},{"s":"030 mV/s","i":12,"V":0.89,"I":0.63},{"s":"030 mV/s","i":13,"V":0.77,"I":0.45},{"s":"030 mV/s","i":14,"V":0.66,"I":0.27},{"s":"030 mV/s","i":15,"V":0.55,"I":0.09},{"s":"030 mV/s","i":16,"V":0.46,"I":-0.18},{"s":"030 mV/s","i":17,"V":0.39,"I":-0.63},{"s":"030 mV/s","i":18,"V":0.32,"I":-1.54},{"s":"030 mV/s","i":19,"V":0.29,"I":-1.99},{"s":"030 mV/s","i":20,"V":0.27,"I":-2.12},{"s":"030 mV/s","i":21,"V":0.24,"I":-1.9},{"s":"030 mV/s","i":22,"V":0.18,"I":-1.08},{"s":"030 mV/s","i":23,"V":0.12,"I":-0.63},{"s":"030 mV/s","i":24,"V":0.05,"I":-0.45},{"s":"030 mV/s","i":25,"V":0,"I":-0.45},
{"s":"050 mV/s","i":0,"V":0,"I":-0.63},{"s":"050 mV/s","i":1,"V":0.03,"I":-0.09},{"s":"050 mV/s","i":2,"V":0.15,"I":0.09},{"s":"050 mV/s","i":3,"V":0.26,"I":0.23},{"s":"050 mV/s","i":4,"V":0.38,"I":0.5},{"s":"050 mV/s","i":5,"V":0.49,"I":0.9},{"s":"050 mV/s","i":6,"V":0.6,"I":1.26},{"s":"050 mV/s","i":7,"V":0.72,"I":1.49},{"s":"050 mV/s","i":8,"V":0.83,"I":1.67},{"s":"050 mV/s","i":9,"V":0.94,"I":1.9},{"s":"050 mV/s","i":10,"V":1,"I":2.08},{"s":"050 mV/s","i":11,"V":0.97,"I":0.81},{"s":"050 mV/s","i":12,"V":0.89,"I":0.54},{"s":"050 mV/s","i":13,"V":0.77,"I":0.36},{"s":"050 mV/s","i":14,"V":0.66,"I":0.18},{"s":"050 mV/s","i":15,"V":0.55,"I":0},{"s":"050 mV/s","i":16,"V":0.46,"I":-0.27},{"s":"050 mV/s","i":17,"V":0.39,"I":-0.77},{"s":"050 mV/s","i":18,"V":0.32,"I":-1.72},{"s":"050 mV/s","i":19,"V":0.28,"I":-2.35},{"s":"050 mV/s","i":20,"V":0.26,"I":-2.48},{"s":"050 mV/s","i":21,"V":0.23,"I":-2.3},{"s":"050 mV/s","i":22,"V":0.17,"I":-1.54},{"s":"050 mV/s","i":23,"V":0.09,"I":-0.9},{"s":"050 mV/s","i":24,"V":0.02,"I":-0.68},{"s":"050 mV/s","i":25,"V":0,"I":-0.68},
{"s":"080 mV/s","i":0,"V":0,"I":-0.95},{"s":"080 mV/s","i":1,"V":0.02,"I":-0.18},{"s":"080 mV/s","i":2,"V":0.09,"I":0},{"s":"080 mV/s","i":3,"V":0.21,"I":0.14},{"s":"080 mV/s","i":4,"V":0.32,"I":0.32},{"s":"080 mV/s","i":5,"V":0.43,"I":0.63},{"s":"080 mV/s","i":6,"V":0.55,"I":1.04},{"s":"080 mV/s","i":7,"V":0.66,"I":1.45},{"s":"080 mV/s","i":8,"V":0.77,"I":1.76},{"s":"080 mV/s","i":9,"V":0.89,"I":2.03},{"s":"080 mV/s","i":10,"V":1,"I":2.48},{"s":"080 mV/s","i":11,"V":0.98,"I":0.81},{"s":"080 mV/s","i":12,"V":0.89,"I":0.45},{"s":"080 mV/s","i":13,"V":0.77,"I":0.27},{"s":"080 mV/s","i":14,"V":0.66,"I":0.09},{"s":"080 mV/s","i":15,"V":0.55,"I":-0.09},{"s":"080 mV/s","i":16,"V":0.46,"I":-0.36},{"s":"080 mV/s","i":17,"V":0.39,"I":-0.86},{"s":"080 mV/s","i":18,"V":0.32,"I":-1.81},{"s":"080 mV/s","i":19,"V":0.27,"I":-2.53},{"s":"080 mV/s","i":20,"V":0.25,"I":-2.71},{"s":"080 mV/s","i":21,"V":0.22,"I":-2.53},{"s":"080 mV/s","i":22,"V":0.15,"I":-1.72},{"s":"080 mV/s","i":23,"V":0.07,"I":-1.17},{"s":"080 mV/s","i":24,"V":0.01,"I":-0.99},{"s":"080 mV/s","i":25,"V":0,"I":-0.99},
{"s":"100 mV/s","i":0,"V":0,"I":-1.08},{"s":"100 mV/s","i":1,"V":0.01,"I":-0.45},{"s":"100 mV/s","i":2,"V":0.06,"I":-0.05},{"s":"100 mV/s","i":3,"V":0.15,"I":0.14},{"s":"100 mV/s","i":4,"V":0.26,"I":0.27},{"s":"100 mV/s","i":5,"V":0.38,"I":0.45},{"s":"100 mV/s","i":6,"V":0.49,"I":0.81},{"s":"100 mV/s","i":7,"V":0.6,"I":1.35},{"s":"100 mV/s","i":8,"V":0.72,"I":1.72},{"s":"100 mV/s","i":9,"V":0.83,"I":1.99},{"s":"100 mV/s","i":10,"V":0.94,"I":2.3},{"s":"100 mV/s","i":11,"V":1,"I":2.8},{"s":"100 mV/s","i":12,"V":0.99,"I":1.54},{"s":"100 mV/s","i":13,"V":0.97,"I":0.81},{"s":"100 mV/s","i":14,"V":0.89,"I":0.41},{"s":"100 mV/s","i":15,"V":0.77,"I":0.18},{"s":"100 mV/s","i":16,"V":0.66,"I":0},{"s":"100 mV/s","i":17,"V":0.55,"I":-0.18},{"s":"100 mV/s","i":18,"V":0.46,"I":-0.41},{"s":"100 mV/s","i":19,"V":0.39,"I":-0.9},{"s":"100 mV/s","i":20,"V":0.32,"I":-1.9},{"s":"100 mV/s","i":21,"V":0.27,"I":-2.62},{"s":"100 mV/s","i":22,"V":0.24,"I":-2.8},{"s":"100 mV/s","i":23,"V":0.21,"I":-2.67},{"s":"100 mV/s","i":24,"V":0.14,"I":-1.9},{"s":"100 mV/s","i":25,"V":0.06,"I":-1.31},{"s":"100 mV/s","i":26,"V":0.01,"I":-1.13},{"s":"100 mV/s","i":27,"V":0,"I":-1.08}
],
"F":[
{"s":"Untreated","i":0,"V":0,"I":-1.26},{"s":"Untreated","i":1,"V":0.03,"I":-0.41},{"s":"Untreated","i":2,"V":0.07,"I":0.23},{"s":"Untreated","i":3,"V":0.15,"I":0.59},{"s":"Untreated","i":4,"V":0.26,"I":0.77},{"s":"Untreated","i":5,"V":0.38,"I":0.9},{"s":"Untreated","i":6,"V":0.49,"I":1.13},{"s":"Untreated","i":7,"V":0.6,"I":1.31},{"s":"Untreated","i":8,"V":0.72,"I":1.53},{"s":"Untreated","i":9,"V":0.83,"I":1.76},{"s":"Untreated","i":10,"V":0.94,"I":2.03},{"s":"Untreated","i":11,"V":1,"I":2.26},{"s":"Untreated","i":12,"V":0.99,"I":1.31},{"s":"Untreated","i":13,"V":0.96,"I":0.59},{"s":"Untreated","i":14,"V":0.88,"I":0.23},{"s":"Untreated","i":15,"V":0.77,"I":-0.05},{"s":"Untreated","i":16,"V":0.66,"I":-0.18},{"s":"Untreated","i":17,"V":0.55,"I":-0.32},{"s":"Untreated","i":18,"V":0.43,"I":-0.5},{"s":"Untreated","i":19,"V":0.35,"I":-0.77},{"s":"Untreated","i":20,"V":0.3,"I":-1.13},{"s":"Untreated","i":21,"V":0.24,"I":-1.31},{"s":"Untreated","i":22,"V":0.19,"I":-1.33},{"s":"Untreated","i":23,"V":0.1,"I":-1.29},{"s":"Untreated","i":24,"V":0.02,"I":-1.26},{"s":"Untreated","i":25,"V":0,"I":-1.26},
{"s":"T: 030 Sec","i":0,"V":0,"I":-0.86},{"s":"T: 030 Sec","i":1,"V":0.02,"I":-0.36},{"s":"T: 030 Sec","i":2,"V":0.07,"I":-0.05},{"s":"T: 030 Sec","i":3,"V":0.15,"I":0.18},{"s":"T: 030 Sec","i":4,"V":0.26,"I":0.32},{"s":"T: 030 Sec","i":5,"V":0.38,"I":0.5},{"s":"T: 030 Sec","i":6,"V":0.49,"I":0.77},{"s":"T: 030 Sec","i":7,"V":0.6,"I":1.13},{"s":"T: 030 Sec","i":8,"V":0.72,"I":1.44},{"s":"T: 030 Sec","i":9,"V":0.83,"I":1.67},{"s":"T: 030 Sec","i":10,"V":0.94,"I":1.94},{"s":"T: 030 Sec","i":11,"V":1,"I":2.21},{"s":"T: 030 Sec","i":12,"V":0.99,"I":1.04},{"s":"T: 030 Sec","i":13,"V":0.95,"I":0.54},{"s":"T: 030 Sec","i":14,"V":0.88,"I":0.32},{"s":"T: 030 Sec","i":15,"V":0.77,"I":0.14},{"s":"T: 030 Sec","i":16,"V":0.66,"I":-0.05},{"s":"T: 030 Sec","i":17,"V":0.55,"I":-0.18},{"s":"T: 030 Sec","i":18,"V":0.43,"I":-0.36},{"s":"T: 030 Sec","i":19,"V":0.37,"I":-0.62},{"s":"T: 030 Sec","i":20,"V":0.33,"I":-1.05},{"s":"T: 030 Sec","i":21,"V":0.3,"I":-1.55},{"s":"T: 030 Sec","i":22,"V":0.27,"I":-1.96},{"s":"T: 030 Sec","i":23,"V":0.24,"I":-1.7},{"s":"T: 030 Sec","i":24,"V":0.19,"I":-1.33},{"s":"T: 030 Sec","i":25,"V":0.1,"I":-1.0},{"s":"T: 030 Sec","i":26,"V":0.02,"I":-0.88},{"s":"T: 030 Sec","i":27,"V":0,"I":-0.86},
{"s":"T: 060 Sec","i":0,"V":0,"I":-1.0},{"s":"T: 060 Sec","i":1,"V":0.03,"I":-0.32},{"s":"T: 060 Sec","i":2,"V":0.1,"I":0.18},{"s":"T: 060 Sec","i":3,"V":0.21,"I":0.41},{"s":"T: 060 Sec","i":4,"V":0.32,"I":0.59},{"s":"T: 060 Sec","i":5,"V":0.43,"I":0.86},{"s":"T: 060 Sec","i":6,"V":0.55,"I":1.17},{"s":"T: 060 Sec","i":7,"V":0.66,"I":1.44},{"s":"T: 060 Sec","i":8,"V":0.77,"I":1.67},{"s":"T: 060 Sec","i":9,"V":0.88,"I":1.94},{"s":"T: 060 Sec","i":10,"V":1,"I":2.35},{"s":"T: 060 Sec","i":11,"V":0.99,"I":1.04},{"s":"T: 060 Sec","i":12,"V":0.94,"I":0.45},{"s":"T: 060 Sec","i":13,"V":0.83,"I":0.18},{"s":"T: 060 Sec","i":14,"V":0.72,"I":0},{"s":"T: 060 Sec","i":15,"V":0.6,"I":-0.18},{"s":"T: 060 Sec","i":16,"V":0.49,"I":-0.41},{"s":"T: 060 Sec","i":17,"V":0.41,"I":-0.68},{"s":"T: 060 Sec","i":18,"V":0.34,"I":-1.22},{"s":"T: 060 Sec","i":19,"V":0.29,"I":-1.94},{"s":"T: 060 Sec","i":20,"V":0.24,"I":-2.39},{"s":"T: 060 Sec","i":21,"V":0.22,"I":-2.37},{"s":"T: 060 Sec","i":22,"V":0.17,"I":-2.03},{"s":"T: 060 Sec","i":23,"V":0.1,"I":-1.49},{"s":"T: 060 Sec","i":24,"V":0.03,"I":-1.17},{"s":"T: 060 Sec","i":25,"V":0,"I":-1.08},
{"s":"T: 080 Sec","i":0,"V":0,"I":-1.35},{"s":"T: 080 Sec","i":1,"V":0.02,"I":-0.41},{"s":"T: 080 Sec","i":2,"V":0.07,"I":0.05},{"s":"T: 080 Sec","i":3,"V":0.15,"I":0.23},{"s":"T: 080 Sec","i":4,"V":0.26,"I":0.45},{"s":"T: 080 Sec","i":5,"V":0.38,"I":0.77},{"s":"T: 080 Sec","i":6,"V":0.46,"I":1.04},{"s":"T: 080 Sec","i":7,"V":0.52,"I":1.4},{"s":"T: 080 Sec","i":8,"V":0.58,"I":1.94},{"s":"T: 080 Sec","i":9,"V":0.64,"I":2.39},{"s":"T: 080 Sec","i":10,"V":0.72,"I":2.57},{"s":"T: 080 Sec","i":11,"V":0.83,"I":2.66},{"s":"T: 080 Sec","i":12,"V":0.94,"I":2.8},{"s":"T: 080 Sec","i":13,"V":1,"I":3.02},{"s":"T: 080 Sec","i":14,"V":0.99,"I":1.22},{"s":"T: 080 Sec","i":15,"V":0.95,"I":0.59},{"s":"T: 080 Sec","i":16,"V":0.88,"I":0.23},{"s":"T: 080 Sec","i":17,"V":0.77,"I":-0.05},{"s":"T: 080 Sec","i":18,"V":0.66,"I":-0.27},{"s":"T: 080 Sec","i":19,"V":0.55,"I":-0.45},{"s":"T: 080 Sec","i":20,"V":0.43,"I":-0.63},{"s":"T: 080 Sec","i":21,"V":0.37,"I":-1.04},{"s":"T: 080 Sec","i":22,"V":0.3,"I":-2.03},{"s":"T: 080 Sec","i":23,"V":0.24,"I":-3.02},{"s":"T: 080 Sec","i":24,"V":0.23,"I":-3.29},{"s":"T: 080 Sec","i":25,"V":0.2,"I":-3.25},{"s":"T: 080 Sec","i":26,"V":0.14,"I":-2.66},{"s":"T: 080 Sec","i":27,"V":0.06,"I":-1.76},{"s":"T: 080 Sec","i":28,"V":0.02,"I":-1.44},{"s":"T: 080 Sec","i":29,"V":0,"I":-1.38},
{"s":"T: 100 Sec","i":0,"V":0,"I":-1.04},{"s":"T: 100 Sec","i":1,"V":0.02,"I":-0.41},{"s":"T: 100 Sec","i":2,"V":0.07,"I":-0.05},{"s":"T: 100 Sec","i":3,"V":0.15,"I":0.14},{"s":"T: 100 Sec","i":4,"V":0.26,"I":0.27},{"s":"T: 100 Sec","i":5,"V":0.38,"I":0.45},{"s":"T: 100 Sec","i":6,"V":0.49,"I":0.81},{"s":"T: 100 Sec","i":7,"V":0.6,"I":1.35},{"s":"T: 100 Sec","i":8,"V":0.72,"I":1.76},{"s":"T: 100 Sec","i":9,"V":0.83,"I":2.03},{"s":"T: 100 Sec","i":10,"V":0.94,"I":2.35},{"s":"T: 100 Sec","i":11,"V":1,"I":2.8},{"s":"T: 100 Sec","i":12,"V":0.99,"I":1.58},{"s":"T: 100 Sec","i":13,"V":0.95,"I":0.81},{"s":"T: 100 Sec","i":14,"V":0.88,"I":0.45},{"s":"T: 100 Sec","i":15,"V":0.77,"I":0.23},{"s":"T: 100 Sec","i":16,"V":0.66,"I":0.05},{"s":"T: 100 Sec","i":17,"V":0.55,"I":-0.14},{"s":"T: 100 Sec","i":18,"V":0.46,"I":-0.36},{"s":"T: 100 Sec","i":19,"V":0.39,"I":-0.86},{"s":"T: 100 Sec","i":20,"V":0.32,"I":-1.85},{"s":"T: 100 Sec","i":21,"V":0.28,"I":-2.57},{"s":"T: 100 Sec","i":22,"V":0.25,"I":-2.75},{"s":"T: 100 Sec","i":23,"V":0.22,"I":-2.62},{"s":"T: 100 Sec","i":24,"V":0.15,"I":-1.94},{"s":"T: 100 Sec","i":25,"V":0.07,"I":-1.4},{"s":"T: 100 Sec","i":26,"V":0.02,"I":-1.15},{"s":"T: 100 Sec","i":27,"V":0,"I":-1.08}
]
},
"columns":3,
"spacing":{"row":48,"column":40},
"bounds":"flush",
"resolve":{"scale":{"x":"independent","y":"independent","color":"independent"},"legend":{"color":"independent"}},
"concat":[
{"width":350,"height":263,"layer":[
 {"data":{"name":"A"},"mark":{"type":"line","interpolate":"catmull-rom","strokeWidth":3,"strokeCap":"round","strokeJoin":"round"},
  "encoding":{
   "x":{"field":"V","type":"quantitative","scale":{"domain":[-0.1,1.075],"nice":false},"axis":{"title":null,"labelOverlap":false,"values":[0,0.1,0.2,0.3,0.4,0.5,0.6,0.7,0.8,0.9,1],"labelExpr":"round(datum.value*10)%2 ? '' : format(datum.value,'.1f')","tickSize":{"condition":{"test":"round(datum.value*10)%2","value":3},"value":6}}},
   "y":{"field":"I","type":"quantitative","scale":{"domain":[-3,3.25],"nice":false},"axis":{"title":null,"labelOverlap":false,"values":[-3,-2.5,-2,-1.5,-1,-0.5,0,0.5,1,1.5,2,2.5,3],"labelExpr":"datum.value%1 ? '' : ''+datum.value","tickSize":{"condition":{"test":"datum.value%1","value":3},"value":6}}},
   "color":{"field":"s","type":"nominal","scale":{"domain":["010 mV/s","030 mV/s","050 mV/s","080 mV/s","100 mV/s"],"range":["#000000","#ff0000","#0000ff","#ff00ff","#108a10"]},"legend":{"title":null,"symbolType":"M-6.8,0H1"}},
   "order":{"field":"i","type":"quantitative"}}},
 {"data":{"values":[{"t":"A"}]},"mark":{"type":"text","font":"Liberation Sans","fontWeight":"bold","fontSize":24,"align":"left","baseline":"middle"},
  "encoding":{"x":{"datum":-0.053,"type":"quantitative","scale":{"domain":[-0.1,1.075],"nice":false}},"y":{"datum":2.77,"type":"quantitative","scale":{"domain":[-3,3.25],"nice":false}},"text":{"field":"t"}}},
 {"data":{"values":[{"t":"Untreated"}]},"mark":{"type":"text","font":"Liberation Serif","fontWeight":"bold","fontSize":19,"align":"left","baseline":"middle"},
  "encoding":{"x":{"datum":0.158,"type":"quantitative","scale":{"domain":[-0.1,1.075],"nice":false}},"y":{"datum":2.89,"type":"quantitative","scale":{"domain":[-3,3.25],"nice":false}},"text":{"field":"t"}}},
 {"data":{"values":[{}]},"mark":{"type":"rule","color":"#8B6914","strokeWidth":4,"strokeDash":[8,3.5],"clip":false},
  "encoding":{"x":{"datum":-0.288,"type":"quantitative","scale":{"domain":[-0.1,1.075],"nice":false}},"y":{"datum":3.2,"type":"quantitative","scale":{"domain":[-3,3.25],"nice":false}},"y2":{"datum":0.52}}},
 {"data":{"values":[{}]},"mark":{"type":"point","shape":"triangle-up","filled":true,"opacity":1,"size":100,"color":"#8B6914","clip":false},
  "encoding":{"x":{"datum":-0.288,"type":"quantitative","scale":{"domain":[-0.1,1.075],"nice":false}},"y":{"datum":3.26,"type":"quantitative","scale":{"domain":[-3,3.25],"nice":false}}}}
]},
{"width":350,"height":263,"layer":[
 {"data":{"name":"B"},"mark":{"type":"line","interpolate":"catmull-rom","strokeWidth":3,"strokeCap":"round","strokeJoin":"round"},
  "encoding":{
   "x":{"field":"V","type":"quantitative","scale":{"domain":[-0.1,1.075],"nice":false},"axis":{"title":null,"labelOverlap":false,"values":[0,0.1,0.2,0.3,0.4,0.5,0.6,0.7,0.8,0.9,1],"labelExpr":"round(datum.value*10)%2 ? '' : format(datum.value,'.1f')","tickSize":{"condition":{"test":"round(datum.value*10)%2","value":3},"value":6}}},
   "y":{"field":"I","type":"quantitative","scale":{"domain":[-3,3.25],"nice":false},"axis":{"title":null,"labelOverlap":false,"values":[-3,-2.5,-2,-1.5,-1,-0.5,0,0.5,1,1.5,2,2.5,3],"labelExpr":"datum.value%1 ? '' : ''+datum.value","tickSize":{"condition":{"test":"datum.value%1","value":3},"value":6}}},
   "color":{"field":"s","type":"nominal","scale":{"domain":["010 mV/s","030 mV/s","050 mV/s","080 mV/s","100 mV/s"],"range":["#000000","#ff0000","#0000ff","#ff00ff","#108a10"]},"legend":{"title":null,"symbolType":"M-6.8,0H1"}},
   "order":{"field":"i","type":"quantitative"}}},
 {"data":{"values":[{"t":"B"}]},"mark":{"type":"text","font":"Liberation Sans","fontWeight":"bold","fontSize":24,"align":"left","baseline":"middle"},
  "encoding":{"x":{"datum":-0.053,"type":"quantitative","scale":{"domain":[-0.1,1.075],"nice":false}},"y":{"datum":2.77,"type":"quantitative","scale":{"domain":[-3,3.25],"nice":false}},"text":{"field":"t"}}},
 {"data":{"values":[{"t":"30 Sec Treatment"}]},"mark":{"type":"text","font":"Liberation Serif","fontWeight":"bold","fontSize":19,"align":"left","baseline":"middle"},
  "encoding":{"x":{"datum":0.125,"type":"quantitative","scale":{"domain":[-0.1,1.075],"nice":false}},"y":{"datum":2.89,"type":"quantitative","scale":{"domain":[-3,3.25],"nice":false}},"text":{"field":"t"}}}
]},
{"width":350,"height":263,"layer":[
 {"data":{"name":"C"},"mark":{"type":"line","interpolate":"catmull-rom","strokeWidth":3,"strokeCap":"round","strokeJoin":"round"},
  "encoding":{
   "x":{"field":"V","type":"quantitative","scale":{"domain":[-0.1,1.075],"nice":false},"axis":{"title":null,"labelOverlap":false,"values":[0,0.1,0.2,0.3,0.4,0.5,0.6,0.7,0.8,0.9,1],"labelExpr":"round(datum.value*10)%2 ? '' : format(datum.value,'.1f')","tickSize":{"condition":{"test":"round(datum.value*10)%2","value":3},"value":6}}},
   "y":{"field":"I","type":"quantitative","scale":{"domain":[-3,3.25],"nice":false},"axis":{"title":null,"labelOverlap":false,"values":[-3,-2.5,-2,-1.5,-1,-0.5,0,0.5,1,1.5,2,2.5,3],"labelExpr":"datum.value%1 ? '' : ''+datum.value","tickSize":{"condition":{"test":"datum.value%1","value":3},"value":6}}},
   "color":{"field":"s","type":"nominal","scale":{"domain":["010 mV/s","030 mV/s","050 mV/s","080 mV/s","100 mV/s"],"range":["#000000","#ff0000","#0000ff","#ff00ff","#108a10"]},"legend":{"title":null,"symbolType":"M-6.8,0H1"}},
   "order":{"field":"i","type":"quantitative"}}},
 {"data":{"values":[{"t":"C"}]},"mark":{"type":"text","font":"Liberation Sans","fontWeight":"bold","fontSize":24,"align":"left","baseline":"middle"},
  "encoding":{"x":{"datum":-0.053,"type":"quantitative","scale":{"domain":[-0.1,1.075],"nice":false}},"y":{"datum":2.77,"type":"quantitative","scale":{"domain":[-3,3.25],"nice":false}},"text":{"field":"t"}}},
 {"data":{"values":[{"t":"60 Sec Treatment"}]},"mark":{"type":"text","font":"Liberation Serif","fontWeight":"bold","fontSize":19,"align":"left","baseline":"middle"},
  "encoding":{"x":{"datum":0.132,"type":"quantitative","scale":{"domain":[-0.1,1.075],"nice":false}},"y":{"datum":2.89,"type":"quantitative","scale":{"domain":[-3,3.25],"nice":false}},"text":{"field":"t"}}}
]},
{"width":350,"height":259,"layer":[
 {"data":{"name":"D"},"mark":{"type":"line","interpolate":"catmull-rom","strokeWidth":3,"strokeCap":"round","strokeJoin":"round"},
  "encoding":{
   "x":{"field":"V","type":"quantitative","scale":{"domain":[-0.1,1.075],"nice":false},"axis":{"title":null,"labelOverlap":false,"values":[0,0.1,0.2,0.3,0.4,0.5,0.6,0.7,0.8,0.9,1],"labelExpr":"round(datum.value*10)%2 ? '' : format(datum.value,'.1f')","tickSize":{"condition":{"test":"round(datum.value*10)%2","value":3},"value":6}}},
   "y":{"field":"I","type":"quantitative","scale":{"domain":[-3.6,3.45],"nice":false},"axis":{"title":null,"labelOverlap":false,"values":[-3,-2.5,-2,-1.5,-1,-0.5,0,0.5,1,1.5,2,2.5,3],"labelExpr":"datum.value%1 ? '' : ''+datum.value","tickSize":{"condition":{"test":"datum.value%1","value":3},"value":6}}},
   "color":{"field":"s","type":"nominal","scale":{"domain":["010 mV/s","030 mV/s","050 mV/s","080 mV/s","100 mV/s"],"range":["#000000","#ff0000","#0000ff","#ff00ff","#108a10"]},"legend":{"title":null,"symbolType":"M-6.8,0H1"}},
   "order":{"field":"i","type":"quantitative"}}},
 {"data":{"values":[{"t":"D"}]},"mark":{"type":"text","font":"Liberation Sans","fontWeight":"bold","fontSize":24,"align":"left","baseline":"middle"},
  "encoding":{"x":{"datum":-0.053,"type":"quantitative","scale":{"domain":[-0.1,1.075],"nice":false}},"y":{"datum":2.88,"type":"quantitative","scale":{"domain":[-3.6,3.45],"nice":false}},"text":{"field":"t"}}},
 {"data":{"values":[{"t":"80 Sec Treatment"}]},"mark":{"type":"text","font":"Liberation Serif","fontWeight":"bold","fontSize":19,"align":"left","baseline":"middle"},
  "encoding":{"x":{"datum":0.064,"type":"quantitative","scale":{"domain":[-0.1,1.075],"nice":false}},"y":{"datum":3.1,"type":"quantitative","scale":{"domain":[-3.6,3.45],"nice":false}},"text":{"field":"t"}}},
 {"data":{"values":[{"t":"Current (mA)"}]},"mark":{"type":"text","font":"Liberation Serif","fontWeight":"bold","fontSize":46,"align":"center","baseline":"middle","angle":270,"clip":false},
  "encoding":{"x":{"datum":-0.288,"type":"quantitative","scale":{"domain":[-0.1,1.075],"nice":false}},"y":{"datum":4.43,"type":"quantitative","scale":{"domain":[-3.6,3.45],"nice":false}},"text":{"field":"t"}}},
 {"data":{"values":[{}]},"mark":{"type":"rule","color":"#8B6914","strokeWidth":4,"strokeDash":[8,3.5],"clip":false},
  "encoding":{"x":{"datum":-0.288,"type":"quantitative","scale":{"domain":[-0.1,1.075],"nice":false}},"y":{"datum":0.07,"type":"quantitative","scale":{"domain":[-3.6,3.45],"nice":false}},"y2":{"datum":-3.7}}},
 {"data":{"values":[{}]},"mark":{"type":"point","shape":"triangle-down","filled":true,"opacity":1,"size":100,"color":"#8B6914","clip":false},
  "encoding":{"x":{"datum":-0.288,"type":"quantitative","scale":{"domain":[-0.1,1.075],"nice":false}},"y":{"datum":-3.76,"type":"quantitative","scale":{"domain":[-3.6,3.45],"nice":false}}}}
]},
{"width":350,"height":259,"layer":[
 {"data":{"name":"E"},"mark":{"type":"line","interpolate":"catmull-rom","strokeWidth":3,"strokeCap":"round","strokeJoin":"round"},
  "encoding":{
   "x":{"field":"V","type":"quantitative","scale":{"domain":[-0.1,1.075],"nice":false},"axis":{"title":null,"labelOverlap":false,"values":[0,0.1,0.2,0.3,0.4,0.5,0.6,0.7,0.8,0.9,1],"labelExpr":"round(datum.value*10)%2 ? '' : format(datum.value,'.1f')","tickSize":{"condition":{"test":"round(datum.value*10)%2","value":3},"value":6}}},
   "y":{"field":"I","type":"quantitative","scale":{"domain":[-3.6,3.45],"nice":false},"axis":{"title":null,"labelOverlap":false,"values":[-3,-2.5,-2,-1.5,-1,-0.5,0,0.5,1,1.5,2,2.5,3],"labelExpr":"datum.value%1 ? '' : ''+datum.value","tickSize":{"condition":{"test":"datum.value%1","value":3},"value":6}}},
   "color":{"field":"s","type":"nominal","scale":{"domain":["010 mV/s","030 mV/s","050 mV/s","080 mV/s","100 mV/s"],"range":["#000000","#ff0000","#0000ff","#ff00ff","#108a10"]},"legend":{"title":null,"symbolType":"M-6.8,0H1"}},
   "order":{"field":"i","type":"quantitative"}}},
 {"data":{"values":[{"t":"E"}]},"mark":{"type":"text","font":"Liberation Sans","fontWeight":"bold","fontSize":24,"align":"left","baseline":"middle"},
  "encoding":{"x":{"datum":-0.053,"type":"quantitative","scale":{"domain":[-0.1,1.075],"nice":false}},"y":{"datum":2.88,"type":"quantitative","scale":{"domain":[-3.6,3.45],"nice":false}},"text":{"field":"t"}}},
 {"data":{"values":[{"t":"100 Sec Treatment"}]},"mark":{"type":"text","font":"Liberation Serif","fontWeight":"bold","fontSize":19,"align":"left","baseline":"middle"},
  "encoding":{"x":{"datum":0.091,"type":"quantitative","scale":{"domain":[-0.1,1.075],"nice":false}},"y":{"datum":3.1,"type":"quantitative","scale":{"domain":[-3.6,3.45],"nice":false}},"text":{"field":"t"}}},
 {"data":{"values":[{"t":"Potential (V)"}]},"mark":{"type":"text","font":"Liberation Serif","fontWeight":"bold","fontSize":42,"align":"center","baseline":"middle","clip":false},
  "encoding":{"x":{"datum":0.504,"type":"quantitative","scale":{"domain":[-0.1,1.075],"nice":false}},"y":{"datum":-5.29,"type":"quantitative","scale":{"domain":[-3.6,3.45],"nice":false}},"text":{"field":"t"}}},
 {"data":{"values":[{}]},"mark":{"type":"rule","color":"#8B6914","strokeWidth":4,"strokeDash":[8,3.5],"clip":false},
  "encoding":{"x":{"datum":-1.39,"type":"quantitative","scale":{"domain":[-0.1,1.075],"nice":false}},"x2":{"datum":0.04},"y":{"datum":-5.21,"type":"quantitative","scale":{"domain":[-3.6,3.45],"nice":false}}}},
 {"data":{"values":[{}]},"mark":{"type":"rule","color":"#8B6914","strokeWidth":4,"strokeDash":[8,3.5],"clip":false},
  "encoding":{"x":{"datum":1.014,"type":"quantitative","scale":{"domain":[-0.1,1.075],"nice":false}},"x2":{"datum":2.345},"y":{"datum":-5.21,"type":"quantitative","scale":{"domain":[-3.6,3.45],"nice":false}}}},
 {"data":{"values":[{}]},"mark":{"type":"point","shape":"triangle-left","filled":true,"opacity":1,"size":100,"color":"#8B6914","clip":false},
  "encoding":{"x":{"datum":-1.406,"type":"quantitative","scale":{"domain":[-0.1,1.075],"nice":false}},"y":{"datum":-5.21,"type":"quantitative","scale":{"domain":[-3.6,3.45],"nice":false}}}},
 {"data":{"values":[{}]},"mark":{"type":"point","shape":"triangle-right","filled":true,"opacity":1,"size":100,"color":"#8B6914","clip":false},
  "encoding":{"x":{"datum":2.36,"type":"quantitative","scale":{"domain":[-0.1,1.075],"nice":false}},"y":{"datum":-5.21,"type":"quantitative","scale":{"domain":[-3.6,3.45],"nice":false}}}}
]},
{"width":350,"height":259,"layer":[
 {"data":{"name":"F"},"mark":{"type":"line","interpolate":"catmull-rom","strokeWidth":3,"strokeCap":"round","strokeJoin":"round"},
  "encoding":{
   "x":{"field":"V","type":"quantitative","scale":{"domain":[-0.1,1.075],"nice":false},"axis":{"title":null,"labelOverlap":false,"values":[0,0.1,0.2,0.3,0.4,0.5,0.6,0.7,0.8,0.9,1],"labelExpr":"round(datum.value*10)%2 ? '' : format(datum.value,'.1f')","tickSize":{"condition":{"test":"round(datum.value*10)%2","value":3},"value":6}}},
   "y":{"field":"I","type":"quantitative","scale":{"domain":[-3.6,3.45],"nice":false},"axis":{"title":null,"labelOverlap":false,"values":[-3,-2.5,-2,-1.5,-1,-0.5,0,0.5,1,1.5,2,2.5,3],"labelExpr":"datum.value%1 ? '' : ''+datum.value","tickSize":{"condition":{"test":"datum.value%1","value":3},"value":6}}},
   "color":{"field":"s","type":"nominal","scale":{"domain":["Untreated","T: 030 Sec","T: 060 Sec","T: 080 Sec","T: 100 Sec"],"range":["#000000","#ff0000","#0000ff","#ff00ff","#108a10"]},"legend":{"title":null,"symbolType":"M-6.8,0H1","offset":2}},
   "order":{"field":"i","type":"quantitative"}}},
 {"data":{"values":[{"t":"F"}]},"mark":{"type":"text","font":"Liberation Sans","fontWeight":"bold","fontSize":24,"align":"left","baseline":"middle"},
  "encoding":{"x":{"datum":-0.053,"type":"quantitative","scale":{"domain":[-0.1,1.075],"nice":false}},"y":{"datum":2.88,"type":"quantitative","scale":{"domain":[-3.6,3.45],"nice":false}},"text":{"field":"t"}}},
 {"data":{"values":[{"t":"Scan rate: 100 mV/s"}]},"mark":{"type":"text","font":"Liberation Serif","fontWeight":"bold","fontSize":19,"align":"left","baseline":"middle"},
  "encoding":{"x":{"datum":0.078,"type":"quantitative","scale":{"domain":[-0.1,1.075],"nice":false}},"y":{"datum":3.1,"type":"quantitative","scale":{"domain":[-3.6,3.45],"nice":false}},"text":{"field":"t"}}}
]}
]
}
